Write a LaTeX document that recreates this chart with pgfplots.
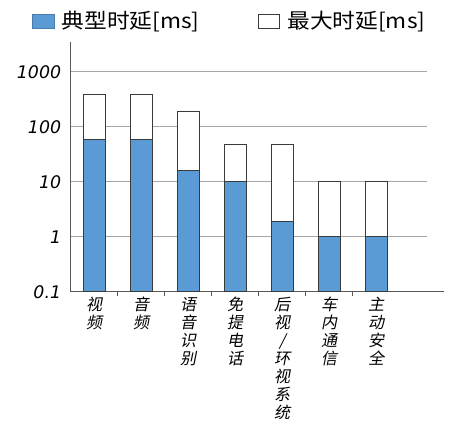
\documentclass[border=0pt]{standalone}
\usepackage{pgfplots}
\pgfplotsset{compat=1.18}
\usepackage{fontspec}
\setmainfont{DejaVu Sans}
\newfontfamily\cjk[FakeStretch=1.1]{Noto Sans CJK SC}
\newfontfamily\cjkit[FakeSlant=0.2]{Noto Sans CJK SC}
\definecolor{typblue}{HTML}{5B9BD5}
\definecolor{edge}{HTML}{3A3A3A}
\definecolor{gridgray}{HTML}{A6A6A6}
\definecolor{axisgray}{HTML}{595959}

\begin{document}
\begin{tikzpicture}
\useasboundingbox (-53pt,-100pt) rectangle (292pt,218.8pt);
\begin{axis}[
  at={(0,0)}, anchor=south west,
  width=267.2pt, height=187.3pt, scale only axis,
  ymode=log, ymin=0.1, ymax=3500,
  log origin y=infty,
  xmin=-0.5, xmax=7.08,
  axis lines=left,
  axis line style={-, draw=axisgray, line width=1pt},
  x axis line style={shorten >=-12.75pt},
  major tick length=0pt,
  tick style={draw=axisgray, line width=0.8pt},
  tick align=outside,
  ytick={0.1,1,10,100,1000},
  yticklabels={0.1,1,10,100,1000},
  yminorticks=false,
  yticklabel style={font=\fontsize{13}{15}\selectfont\itshape, anchor=east, inner sep=0pt, xshift=-7pt},
  ymajorgrids,
  major grid style={draw=gridgray, line width=0.8pt},
  xtick={0,...,6},
  xticklabels={{视\\频},{音\\频},{语\\音\\识\\别},{免\\提\\电\\话},{后\\视\\/\\环\\视\\系\\统},{车\\内\\通\\信},{主\\动\\安\\全}},
  xticklabel style={font=\cjkit\fontsize{12}{13.5}\selectfont, align=center, anchor=north, inner sep=0pt, yshift=-4pt},
  extra x ticks={0.5,1.5,2.5,3.5,4.5,5.5},
  extra x tick labels={},
  extra x tick style={grid=none, major tick length=3pt},
  legend columns=2,
  legend style={draw=none, fill=none, at={(-0.1095,1.083)}, anchor=west, inner sep=0pt,
    font=\cjk\fontsize{15.5}{18}\selectfont, nodes={inner sep=0pt},
    /tikz/every even column/.append style={column sep=43.5pt},
    /tikz/every odd column/.append style={column sep=5.5pt}},
  legend image code/.code={\draw[#1] (0pt,-5pt) rectangle (16.2pt,5pt);},
]
\addlegendimage{fill=typblue, draw=typblue!80!black, line width=0.6pt}
\addlegendentry{典型时延[ms]}
\addlegendimage{fill=white, draw=edge, line width=0.6pt}
\addlegendentry{最大时延[ms]}

% maximum latency (drawn behind)
\addplot[ybar, bar width=16.5pt, bar shift=0pt, fill=white, draw=edge, line width=0.9pt, forget plot]
  coordinates {(0,390) (1,390) (2,190) (3,48) (4,48) (5,10) (6,10)};
% typical latency
\addplot[ybar, bar width=16.5pt, bar shift=0pt, fill=typblue, draw=edge, line width=0.9pt, forget plot]
  coordinates {(0,58) (1,58) (2,16.2) (3,10) (4,1.87) (5,1) (6,1)};
\end{axis}
\end{tikzpicture}
\end{document}
